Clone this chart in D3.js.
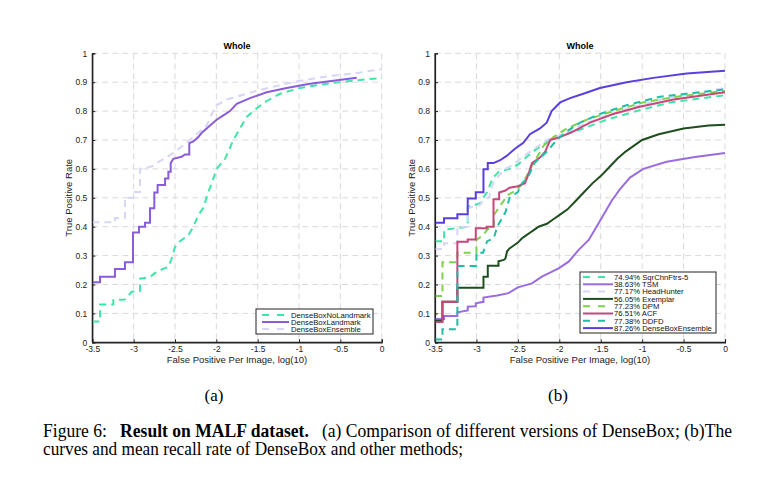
<!DOCTYPE html>
<html><head><meta charset="utf-8">
<script src="https://cdn.jsdelivr.net/npm/d3@7"></script>
<style>body{margin:0;background:#fff}svg{display:block}text{white-space:pre}</style>
</head><body>
<svg id="c" width="770" height="477"></svg>
<script>
const xTicks=[-3.5,-3,-2.5,-2,-1.5,-1,-0.5,0];
const yTicks=[0,0.1,0.2,0.3,0.4,0.5,0.6,0.7,0.8,0.9,1];
const title="Whole";
const xLabel="False Positive Per Image, log(10)";
const yLabel="True Positive Rate";

// Panel (a)
const aNames=["DenseBoxNoLandmark","DenseBoxLandmark","DenseBoxEnsemble"];
const aNoLandmark=[[-3.5,0.072],[-3.407,0.072],[-3.407,0.131],[-3.246,0.131],[-3.246,0.146],[-3.105,0.148],[-3.024,0.175],[-2.923,0.178],[-2.923,0.22],[-2.802,0.225],[-2.742,0.24],[-2.64,0.255],[-2.58,0.26],[-2.54,0.29],[-2.5,0.33],[-2.44,0.35],[-2.34,0.37],[-2.278,0.40],[-2.218,0.44],[-2.157,0.465],[-2.097,0.52],[-2.056,0.55],[-1.996,0.60],[-1.895,0.635],[-1.794,0.70],[-1.714,0.74],[-1.633,0.78],[-1.512,0.81],[-1.391,0.835],[-1.23,0.86],[-0.988,0.88],[-0.665,0.895],[-0.343,0.905],[0,0.915]];
const aLandmark=[[-3.5,0.208],[-3.407,0.208],[-3.407,0.227],[-3.226,0.227],[-3.226,0.254],[-3.105,0.254],[-3.105,0.277],[-3.008,0.277],[-3.008,0.38],[-2.935,0.38],[-2.935,0.40],[-2.863,0.40],[-2.863,0.414],[-2.802,0.414],[-2.802,0.464],[-2.75,0.464],[-2.75,0.518],[-2.71,0.518],[-2.71,0.544],[-2.62,0.544],[-2.62,0.567],[-2.58,0.567],[-2.58,0.59],[-2.552,0.59],[-2.552,0.62],[-2.52,0.635],[-2.42,0.642],[-2.379,0.65],[-2.327,0.65],[-2.327,0.689],[-2.278,0.695],[-2.218,0.71],[-2.177,0.725],[-2.117,0.74],[-2.056,0.755],[-1.996,0.77],[-1.915,0.785],[-1.835,0.80],[-1.754,0.825],[-1.593,0.845],[-1.391,0.865],[-1.149,0.88],[-0.867,0.895],[-0.585,0.905],[-0.302,0.915]];
const aEnsemble=[[-3.5,0.415],[-3.226,0.415],[-3.226,0.43],[-3.105,0.43],[-3.105,0.50],[-3.004,0.50],[-3.004,0.52],[-2.923,0.52],[-2.923,0.60],[-2.762,0.61],[-2.722,0.62],[-2.6,0.64],[-2.5,0.66],[-2.359,0.69],[-2.319,0.70],[-2.238,0.72],[-2.117,0.75],[-2.056,0.79],[-1.996,0.82],[-1.875,0.84],[-1.754,0.85],[-1.512,0.87],[-1.23,0.89],[-0.988,0.905],[-0.665,0.92],[-0.343,0.93],[0,0.945]];
const aColors=["#3ee6a6","#8a5cdb","#d6d6f6"];
const aDash=["7,5",null,"7,5"];

// Panel (b)
const bNames=["74.94% SqrChnFtrs-5","38.63% TSM","77.17% HeadHunter","56.05% Exemplar","77.23% DPM","76.51% ACF","77.38% DDFD","87.26% DenseBoxEnsemble"];
const bSqrChn=[[-3.5,0.35],[-3.39,0.35],[-3.39,0.39],[-3.23,0.395],[-3.105,0.40],[-3.105,0.47],[-2.96,0.48],[-2.92,0.50],[-2.87,0.52],[-2.8,0.57],[-2.73,0.59],[-2.6,0.60],[-2.5,0.615],[-2.4,0.64],[-2.27,0.67],[-2.11,0.70],[-1.91,0.72],[-1.71,0.74],[-1.43,0.77],[-1.07,0.80],[-0.66,0.83],[0,0.855]];
const bTSM=[[-3.5,0.081],[-3.391,0.081],[-3.391,0.091],[-3.23,0.091],[-3.23,0.104],[-3.105,0.11],[-3.105,0.123],[-3.008,0.125],[-3.008,0.135],[-2.915,0.14],[-2.915,0.155],[-2.75,0.162],[-2.613,0.17],[-2.5,0.19],[-2.33,0.204],[-2.21,0.227],[-2.008,0.256],[-1.887,0.279],[-1.766,0.32],[-1.645,0.354],[-1.529,0.41],[-1.448,0.45],[-1.368,0.49],[-1.267,0.53],[-1.147,0.57],[-0.986,0.60],[-0.704,0.625],[-0.383,0.64],[0,0.655]];
const bHead=[[-3.5,0.323],[-3.39,0.323],[-3.39,0.343],[-3.23,0.343],[-3.23,0.40],[-3.105,0.40],[-3.105,0.465],[-2.96,0.475],[-2.92,0.49],[-2.85,0.50],[-2.8,0.55],[-2.72,0.58],[-2.65,0.60],[-2.55,0.615],[-2.45,0.64],[-2.3,0.67],[-2.15,0.70],[-1.95,0.72],[-1.75,0.75],[-1.47,0.78],[-1.15,0.81],[-0.78,0.84],[-0.4,0.86],[0,0.88]];
const bExemplar=[[-3.5,0.075],[-3.41,0.075],[-3.41,0.14],[-3.23,0.14],[-3.23,0.189],[-2.915,0.189],[-2.915,0.227],[-2.863,0.227],[-2.863,0.265],[-2.734,0.265],[-2.734,0.28],[-2.67,0.285],[-2.65,0.29],[-2.63,0.315],[-2.6,0.325],[-2.55,0.335],[-2.5,0.345],[-2.45,0.36],[-2.4,0.37],[-2.35,0.38],[-2.3,0.39],[-2.25,0.40],[-2.15,0.41],[-2.05,0.43],[-2.0,0.44],[-1.9,0.46],[-1.8,0.49],[-1.7,0.52],[-1.6,0.55],[-1.5,0.575],[-1.4,0.605],[-1.3,0.635],[-1.2,0.66],[-1.0,0.70],[-0.8,0.72],[-0.5,0.74],[-0.2,0.75],[0,0.753]];
const bDPM=[[-3.5,0.16],[-3.41,0.16],[-3.41,0.277],[-3.23,0.277],[-3.23,0.31],[-3.0,0.31],[-3.0,0.355],[-2.92,0.37],[-2.87,0.39],[-2.79,0.40],[-2.79,0.44],[-2.72,0.47],[-2.62,0.51],[-2.5,0.53],[-2.42,0.56],[-2.35,0.60],[-2.27,0.64],[-2.19,0.68],[-2.07,0.71],[-1.91,0.74],[-1.67,0.77],[-1.35,0.80],[-0.99,0.83],[-0.58,0.85],[0,0.87]];
const bACF=[[-3.5,0.07],[-3.411,0.07],[-3.411,0.14],[-3.23,0.14],[-3.23,0.348],[-3.105,0.348],[-3.105,0.356],[-3.008,0.356],[-3.008,0.395],[-2.875,0.395],[-2.875,0.40],[-2.794,0.40],[-2.794,0.495],[-2.726,0.495],[-2.726,0.518],[-2.65,0.525],[-2.6,0.535],[-2.5,0.54],[-2.414,0.55],[-2.374,0.58],[-2.33,0.62],[-2.23,0.64],[-2.17,0.66],[-2.11,0.70],[-1.99,0.71],[-1.83,0.73],[-1.63,0.76],[-1.35,0.79],[-1.03,0.815],[-0.62,0.84],[0,0.865]];
const bDDFD=[[-3.5,0.01],[-3.41,0.01],[-3.41,0.045],[-3.23,0.045],[-3.23,0.264],[-3.0,0.264],[-3.0,0.31],[-2.92,0.31],[-2.87,0.35],[-2.79,0.36],[-2.75,0.40],[-2.65,0.45],[-2.6,0.50],[-2.5,0.52],[-2.45,0.55],[-2.38,0.57],[-2.3,0.62],[-2.15,0.66],[-2.03,0.70],[-1.91,0.73],[-1.75,0.76],[-1.51,0.79],[-1.19,0.82],[-0.78,0.85],[0,0.875]];
const bDenseBox=[[-3.5,0.414],[-3.391,0.414],[-3.391,0.429],[-3.23,0.429],[-3.23,0.443],[-3.105,0.443],[-3.105,0.498],[-3.008,0.498],[-3.008,0.519],[-2.915,0.519],[-2.915,0.599],[-2.863,0.599],[-2.863,0.62],[-2.794,0.62],[-2.714,0.63],[-2.635,0.645],[-2.535,0.67],[-2.434,0.69],[-2.354,0.72],[-2.233,0.74],[-2.152,0.76],[-2.092,0.80],[-1.99,0.83],[-1.87,0.845],[-1.71,0.86],[-1.51,0.88],[-1.187,0.90],[-0.865,0.915],[-0.463,0.93],[0,0.94]];
const bColors=["#3ee6a6","#9a6ce0","#d6d6f6","#1e4d1e","#80d050","#c8467a","#1fbfa2","#5a3fe0"];
const bDash=["7,5",null,"7,5",null,"7,5",null,"7,5",null];

const svg=d3.select("#c");
const sans="Liberation Sans, Arial, sans-serif";

function panel(x0,x1,y0,y1,series,names,colors,dashes,leg){
  const x=d3.scaleLinear().domain([-3.5,0]).range([x0,x1]);
  const y=d3.scaleLinear().domain([0,1]).range([y1,y0]);
  const g=svg.append("g");
  g.selectAll(".gx").data(xTicks.slice(1)).join("line")
    .attr("x1",d=>x(d)).attr("x2",d=>x(d)).attr("y1",y0).attr("y2",y1)
    .attr("stroke","#d9d9d9").attr("stroke-dasharray","6,4").attr("stroke-width",1);
  g.selectAll(".gy").data(yTicks.slice(1)).join("line")
    .attr("y1",d=>y(d)).attr("y2",d=>y(d)).attr("x1",x0).attr("x2",x1)
    .attr("stroke","#d9d9d9").attr("stroke-dasharray","6,4").attr("stroke-width",1);
  const ax=g.append("g").attr("transform",`translate(0,${y1})`)
    .call(d3.axisBottom(x).tickValues(xTicks).tickSize(-3).tickPadding(4).tickFormat(d=>d===0?"0":String(d)));
  const ay=g.append("g").attr("transform",`translate(${x0},0)`)
    .call(d3.axisLeft(y).tickValues(yTicks).tickSize(-3).tickPadding(5).tickFormat(d=>String(+d.toFixed(1))));
  [ax,ay].forEach(a=>{a.select(".domain").attr("stroke","#222").attr("stroke-width",1.2);
    a.selectAll(".tick line").attr("stroke","#222");
    a.selectAll("text").attr("font-family",sans).attr("font-size",8.5).attr("fill","#222");});
  const line=d3.line().x(d=>x(d[0])).y(d=>y(d[1]));
  series.forEach((s,i)=>{
    g.append("path").datum(s).attr("d",line).attr("fill","none")
      .attr("stroke",colors[i]).attr("stroke-width",2)
      .attr("stroke-dasharray",dashes[i]);
  });
  g.append("line").attr("x1",x0).attr("x2",x0).attr("y1",y0).attr("y2",y1).attr("stroke","#222").attr("stroke-width",1.2);
  g.append("line").attr("x1",x0).attr("x2",x1).attr("y1",y1).attr("y2",y1).attr("stroke","#222").attr("stroke-width",1.2);
  g.append("text").attr("x",(x0+x1)/2).attr("y",y0-4).attr("text-anchor","middle")
    .attr("font-family",sans).attr("font-weight","bold").attr("font-size",9).text(title);
  g.append("text").attr("x",(x0+x1)/2).attr("y",y1+21).attr("text-anchor","middle")
    .attr("font-family",sans).attr("font-size",9.5).attr("fill","#222").text(xLabel);
  g.append("text").attr("transform",`translate(${x0-20},${(y0+y1)/2}) rotate(-90)`).attr("text-anchor","middle")
    .attr("font-family",sans).attr("font-size",9.5).attr("fill","#222").text(yLabel);
  const lg=g.append("g");
  lg.append("rect").attr("x",leg.x).attr("y",leg.y).attr("width",leg.w).attr("height",leg.h)
    .attr("fill","#fff").attr("stroke","#222").attr("stroke-width",1);
  names.forEach((n,i)=>{
    const yy=leg.y+leg.pad+i*leg.dy;
    lg.append("line").attr("x1",leg.x+leg.l0).attr("x2",leg.x+leg.l1).attr("y1",yy).attr("y2",yy)
      .attr("stroke",colors[i]).attr("stroke-width",2).attr("stroke-dasharray",dashes[i]?"7,8":null);
    lg.append("text").attr("x",leg.x+leg.tx).attr("y",yy+2.7).attr("font-family",sans)
      .attr("font-size",7.7).attr("fill","#111").text(n);
  });
}

panel(92.3,381.7,53.3,342.3,[aNoLandmark,aLandmark,aEnsemble],aNames,aColors,aDash,
  {x:256,y:309,w:117,h:25,pad:6,dy:7,l0:6,l1:33,tx:35});
panel(435,725,53.3,342.3,[bSqrChn,bTSM,bHead,bExemplar,bDPM,bACF,bDDFD,bDenseBox],bNames,bColors,bDash,
  {x:580,y:272,w:136,h:61,pad:5,dy:7.3,l0:3,l1:33,tx:34});

const serif="Liberation Serif, Times New Roman, serif";
svg.append("text").attr("x",214).attr("y",401).attr("text-anchor","middle").attr("font-family",serif).attr("font-size",17).text("(a)");
svg.append("text").attr("x",558).attr("y",401).attr("text-anchor","middle").attr("font-family",serif).attr("font-size",17).text("(b)");
const cap=svg.append("text").attr("x",43).attr("y",437).attr("font-family",serif).attr("font-size",18)
  .attr("textLength",689).attr("lengthAdjust","spacingAndGlyphs");
cap.append("tspan").text("Figure 6:   ");
cap.append("tspan").attr("font-weight","bold").text("Result on MALF dataset.");
cap.append("tspan").text("   (a) Comparison of different versions of DenseBox; (b)The");
svg.append("text").attr("x",43).attr("y",455).attr("font-family",serif).attr("font-size",18)
  .attr("textLength",420).attr("lengthAdjust","spacingAndGlyphs")
  .text("curves and mean recall rate of DenseBox and other methods;");
</script>
</body></html>
